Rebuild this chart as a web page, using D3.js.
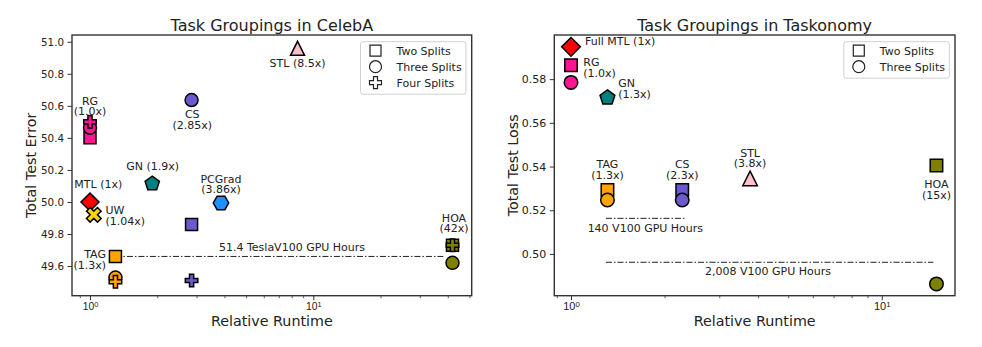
<!DOCTYPE html>
<html>
<head>
<meta charset="utf-8">
<script src="https://cdn.jsdelivr.net/npm/d3@7"></script>
<style>
  body { margin: 0; background: #fff; }
  svg { font-family: "DejaVu Sans", sans-serif; }
</style>
</head>
<body>
<svg id="chart" width="982" height="347"></svg>
<script>
// ---- CelebA: [method, relative runtime, total test error]
const celebaTwoSplits = [["RG", 1.0, 50.40], ["CS", 2.85, 49.86], ["TAG", 1.3, 49.66], ["HOA", 42, 49.73]];
const celebaThreeSplits = [["RG", 1.0, 50.463], ["CS", 2.85, 50.636], ["TAG", 1.3, 49.528], ["HOA", 42, 49.62]];
const celebaFourSplits = [["RG", 1.0, 50.50], ["CS", 2.85, 49.51], ["TAG", 1.3, 49.502], ["HOA", 42, 49.73]];
const celebaBaselines = [["STL", 8.5, 50.959], ["GN", 1.9, 50.114], ["PCGrad", 3.86, 49.994], ["MTL", 1.0, 50.0], ["UW", 1.04, 49.92]];

const celebaNotes = [
  { lines: ["STL (8.5x)"], x: 8.5, y: 50.842, anchor: "middle" },
  { lines: ["CS", "(2.85x)"], x: 2.87, y: 50.522, anchor: "middle" },
  { lines: ["RG", "(1.0x)"], x: 1.0, y: 50.608, anchor: "middle" },
  { lines: ["GN (1.9x)"], x: 1.91, y: 50.199, anchor: "middle" },
  { lines: ["PCGrad", "(3.86x)"], x: 3.86, y: 50.12, anchor: "middle" },
  { lines: ["MTL (1x)"], x: 1.089, y: 50.089, anchor: "middle" },
  { lines: ["UW", "(1.04x)"], x: 1.173, y: 49.923, anchor: "start" },
  { lines: ["TAG", "(1.3x)"], x: 1.179, y: 49.648, anchor: "end" },
  { lines: ["HOA", "(42x)"], x: 42.66, y: 49.876, anchor: "middle" }
];
const celebaBudgets = [
  { label: "51.4 TeslaV100 GPU Hours", from: 1.3, to: 38.2, level: 49.66, labelX: 8.03, labelY: 49.696 }
];
const celebaYTicks = [49.6, 49.8, 50.0, 50.2, 50.4, 50.6, 50.8, 51.0];

// ---- Taskonomy: [method, relative runtime, total test loss]
const taskTwoSplits = [["RG", 1.0, 0.5864], ["TAG", 1.31, 0.5293], ["CS", 2.28, 0.5293], ["HOA", 15.0, 0.5405]];
const taskThreeSplits = [["RG", 1.0, 0.5785], ["TAG", 1.31, 0.5247], ["CS", 2.28, 0.5247], ["HOA", 15.0, 0.4863]];
const taskBaselines = [["MTL", 1.0, 0.5948], ["GN", 1.31, 0.5715], ["STL", 3.77, 0.5346]];

const taskNotes = [
  { lines: ["Full MTL (1x)"], x: 1.109, y: 0.5957, anchor: "start" },
  { lines: ["RG", "(1.0x)"], x: 1.095, y: 0.5859, anchor: "start" },
  { lines: ["GN", "(1.3x)"], x: 1.42, y: 0.5762, anchor: "start" },
  { lines: ["TAG", "(1.3x)"], x: 1.31, y: 0.5392, anchor: "middle" },
  { lines: ["CS", "(2.3x)"], x: 2.28, y: 0.5392, anchor: "middle" },
  { lines: ["STL", "(3.8x)"], x: 3.77, y: 0.5445, anchor: "middle" },
  { lines: ["HOA", "(15x)"], x: 15.0, y: 0.5300, anchor: "middle" }
];
const taskBudgets = [
  { label: "140 V100 GPU Hours", from: 1.296, to: 2.327, level: 0.5163, labelX: 1.735, labelY: 0.5102 },
  { label: "2,008 V100 GPU Hours", from: 1.296, to: 14.66, level: 0.4962, labelX: 4.306, labelY: 0.4904 }
];
const taskYTicks = [0.50, 0.52, 0.54, 0.56, 0.58];

// ---- styles
const methodColor = {
  STL: "#ffc0cb", CS: "#6a5acd", RG: "#ff1493", GN: "#008080", PCGrad: "#1e90ff",
  MTL: "#ff0000", UW: "#ffd700", TAG: "#ffa500", HOA: "#808000"
};
const baselineShape = { STL: "triangle", GN: "pentagon", PCGrad: "hexagon", MTL: "diamond", UW: "x" };
const markerSize = { square: 12, circle: 13, plus: 12.5, diamond: 18, triangle: 14, pentagon: 15, hexagon: 15.5, x: 15.5 };

function markerPath(shape, s) {
  const h = s / 2;
  const poly = (n, start) => d3.range(n).map(k => {
    const a = start + k * 2 * Math.PI / n;
    return [h * Math.cos(a), h * Math.sin(a)];
  });
  const toPath = pts => "M" + pts.map(p => p[0].toFixed(2) + "," + p[1].toFixed(2)).join("L") + "Z";
  if (shape === "square") return `M${-h},${-h}H${h}V${h}H${-h}Z`;
  if (shape === "circle") return `M${h},0A${h},${h} 0 1,1 ${-h},0A${h},${h} 0 1,1 ${h},0Z`;
  if (shape === "diamond") return `M0,${-h}L${h},0L0,${h}L${-h},0Z`;
  if (shape === "triangle") return `M0,${-h}L${h},${h}L${-h},${h}Z`;
  if (shape === "pentagon") return toPath(poly(5, -Math.PI / 2));
  if (shape === "hexagon") return toPath(poly(6, 0));
  // plus / x (x is the plus rotated by 45deg)
  const a = s / 6;
  return toPath([[-a, -h], [a, -h], [a, -a], [h, -a], [h, a], [a, a], [a, h], [-a, h], [-a, a], [-h, a], [-h, -a], [-a, -a]]);
}

const svg = d3.select("#chart");
const ink = "#222";

function drawPanel(p) {
  const g = svg.append("g");
  const x = d3.scaleLog().domain(p.xDomain).range([p.left, p.right]);
  const y = d3.scaleLinear().domain(p.yDomain).range([p.bottom, p.top]);

  // y axis
  g.append("g")
    .attr("transform", `translate(${p.left},0)`)
    .call(d3.axisLeft(y).tickValues(p.yTicks).tickFormat(d3.format(p.yFormat)).tickSize(4.5).tickPadding(3.5))
    .call(a => a.select(".domain").remove())
    .call(a => a.selectAll("line").attr("stroke", "#333").attr("stroke-width", 1))
    .call(a => a.selectAll("text").attr("font-size", p.tickFont).attr("fill", ink).attr("font-family", "DejaVu Sans"));

  // x axis: log, major + minor ticks
  const minor = [0.9, 2, 3, 4, 5, 6, 7, 8, 9, 20, 30, 40, 50].filter(v => v > p.xDomain[0] && v < p.xDomain[1]);
  g.append("g")
    .attr("transform", `translate(0,${p.bottom})`)
    .call(d3.axisBottom(x).tickValues(minor).tickFormat("").tickSize(2.5))
    .call(a => a.select(".domain").remove())
    .call(a => a.selectAll("line").attr("stroke", "#333").attr("stroke-width", 0.8));
  const major = g.append("g")
    .attr("transform", `translate(0,${p.bottom})`)
    .call(d3.axisBottom(x).tickValues([1, 10]).tickFormat("").tickSize(4.5))
    .call(a => a.select(".domain").remove())
    .call(a => a.selectAll("line").attr("stroke", "#333").attr("stroke-width", 1));
  major.selectAll(".tick").append("text")
    .attr("y", 14.5)
    .attr("text-anchor", "middle")
    .attr("font-size", p.tickFont)
    .attr("fill", ink)
    .each(function (d) {
      const t = d3.select(this);
      t.append("tspan").text("10");
      t.append("tspan").attr("dy", "-0.45em").attr("font-size", "0.72em").text(Math.round(Math.log10(d)));
    });

  // budget lines
  p.budgets.forEach(b => {
    g.append("line")
      .attr("x1", x(b.from)).attr("x2", x(b.to))
      .attr("y1", y(b.level)).attr("y2", y(b.level))
      .attr("stroke", "#222").attr("stroke-width", 1)
      .attr("stroke-dasharray", "6,2,1.5,2");
    g.append("text")
      .attr("x", x(b.labelX)).attr("y", y(b.labelY))
      .attr("text-anchor", "middle").attr("font-size", 11).attr("fill", ink)
      .text(b.label);
  });

  // markers
  p.layers.forEach(layer => {
    g.append("g").selectAll("path")
      .data(layer.rows)
      .join("path")
      .attr("d", d => {
        const shape = layer.shape || baselineShape[d[0]];
        return markerPath(shape, markerSize[shape] * p.markerScale);
      })
      .attr("transform", d => {
        const shape = layer.shape || baselineShape[d[0]];
        return `translate(${x(d[1])},${y(d[2])})` + (shape === "x" ? " rotate(45)" : "");
      })
      .attr("fill", d => methodColor[d[0]])
      .attr("stroke", "#000")
      .attr("stroke-width", 1.5)
      .attr("stroke-linejoin", "miter");
  });

  // annotations
  p.notes.forEach(n => {
    const t = g.append("text")
      .attr("x", x(n.x)).attr("y", y(n.y))
      .attr("text-anchor", n.anchor).attr("font-size", 11).attr("fill", ink);
    n.lines.forEach((line, i) => {
      t.append("tspan").attr("x", x(n.x)).attr("dy", i === 0 ? 0 : 10.6).text(line);
    });
  });

  // frame
  g.append("rect")
    .attr("x", p.left).attr("y", p.top)
    .attr("width", p.right - p.left).attr("height", p.bottom - p.top)
    .attr("fill", "none").attr("stroke", "#333").attr("stroke-width", 1.4);

  // legend
  const rowH = 16;
  const lw = 105.5;
  const lx = p.right - 5.7 - lw;
  const ly = p.top + 6.7;
  const legend = g.append("g").attr("transform", `translate(${lx},${ly})`);
  legend.append("rect")
    .attr("width", lw).attr("height", p.legend.length * rowH + 4.5)
    .attr("rx", 2.5).attr("fill", "#fff").attr("fill-opacity", 0.8)
    .attr("stroke", "#d0d0d0").attr("stroke-width", 1);
  const item = legend.selectAll(".item")
    .data(p.legend)
    .join("g")
    .attr("class", "item")
    .attr("transform", (d, i) => `translate(0,${9 + i * rowH})`);
  item.append("path")
    .attr("transform", "translate(15,0)")
    .attr("d", d => markerPath(d.shape, d.shape === "square" ? 11 : 12))
    .attr("fill", "#fff").attr("stroke", "#222").attr("stroke-width", 1.2);
  item.append("text")
    .attr("x", 36).attr("dy", "0.35em")
    .attr("font-size", 11).attr("fill", ink)
    .text(d => d.label);

  // titles
  const cx = (p.left + p.right) / 2;
  g.append("text").attr("x", cx).attr("y", 30.5).attr("text-anchor", "middle")
    .attr("font-size", 16).attr("fill", ink).text(p.title);
  g.append("text").attr("x", cx).attr("y", 326).attr("text-anchor", "middle")
    .attr("font-size", 14.3).attr("fill", ink).text("Relative Runtime");
  g.append("text")
    .attr("transform", `translate(${p.left - 36},${(p.top + p.bottom) / 2}) rotate(-90)`)
    .attr("text-anchor", "middle").attr("font-size", 14.3).attr("fill", ink)
    .text(p.yLabel);
}

drawPanel({
  title: "Task Groupings in CelebA",
  yLabel: "Total Test Error",
  left: 72, right: 471.7, top: 35, bottom: 295.7,
  xDomain: [0.8306, 51.2], yDomain: [49.415, 51.042],
  yTicks: celebaYTicks, yFormat: ".1f", tickFont: 10.3,
  markerScale: 1,
  budgets: celebaBudgets,
  layers: [
    { rows: celebaTwoSplits, shape: "square" },
    { rows: celebaThreeSplits, shape: "circle" },
    { rows: celebaFourSplits, shape: "plus" },
    { rows: celebaBaselines }
  ],
  notes: celebaNotes,
  legend: [
    { shape: "square", label: "Two Splits" },
    { shape: "circle", label: "Three Splits" },
    { shape: "plus", label: "Four Splits" }
  ]
});

drawPanel({
  title: "Task Groupings in Taskonomy",
  yLabel: "Total Test Loss",
  left: 554.3, right: 955, top: 35, bottom: 295.7,
  xDomain: [0.8836, 17.21], yDomain: [0.4809, 0.6002],
  yTicks: taskYTicks, yFormat: ".2f", tickFont: 11,
  markerScale: 1.04,
  budgets: taskBudgets,
  layers: [
    { rows: taskTwoSplits, shape: "square" },
    { rows: taskThreeSplits, shape: "circle" },
    { rows: taskBaselines }
  ],
  notes: taskNotes,
  legend: [
    { shape: "square", label: "Two Splits" },
    { shape: "circle", label: "Three Splits" }
  ]
});
</script>
</body>
</html>
